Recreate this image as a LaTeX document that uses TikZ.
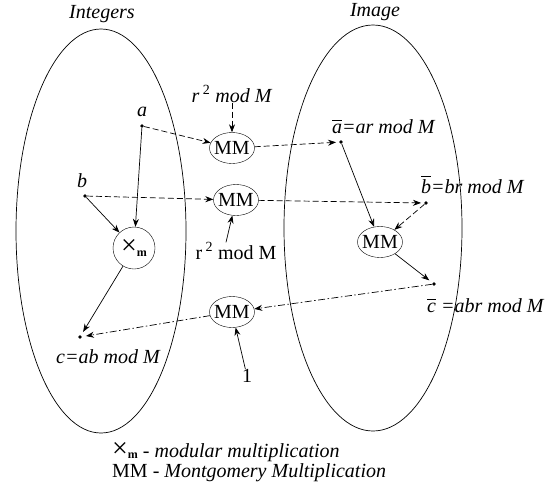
\documentclass[tikz,border=0pt]{standalone}
\usepackage{amsmath}
\usepackage{graphicx}
\usepackage{fontspec}
\setmainfont{Liberation Serif}
\usetikzlibrary{shapes.geometric, arrows.meta, positioning}
\tikzstyle{mm} = [ellipse, draw, minimum width=45pt, minimum height=31pt, inner xsep=-6pt, inner ysep=0pt]
\tikzstyle{modmul} = [circle, draw, minimum size=42pt, inner sep=0pt]
\tikzstyle{dot} = [circle, fill=black, inner sep=0pt, minimum size=3.6pt]
\tikzstyle{lbl} = [inner sep=0pt]
\tikzstyle{arrow} = [line width=0.7pt,->,>={Stealth[length=8pt,width=6pt]}]
\tikzstyle{darrow} = [arrow, dash pattern=on 6pt off 3pt]
\tikzstyle{ddarrow} = [arrow, dash pattern=on 7pt off 2.5pt on 1.5pt off 2.5pt]
\newcommand{\ovl}[1]{$\overline{\textit{#1}}$}
\newcommand{\xmod}{\scalebox{1.4}{×}\raisebox{-1.5pt}{\fontsize{12}{12}\selectfont\textbf{m}}}

\begin{document}
\begin{tikzpicture}[x=1pt, y=-1pt, font=\fontsize{20}{22}\selectfont]

    \useasboundingbox (0,0) rectangle (559,491);

    % the two sets
    \draw [line width=0.7pt] (101,231) ellipse [x radius=85pt, y radius=202pt];
    \draw [line width=0.7pt] (373,228) ellipse [x radius=89pt, y radius=203pt];
    \node (integers) [lbl] at (102,14) {\textit{Integers}};
    \node (image) [lbl] at (375,12) {\textit{Image}};

    % points
    \node (adot) [dot] at (142,126) {};
    \node (bdot) [dot] at (85,196) {};
    \node (cdot) [dot] at (80,337) {};
    \node (abar) [dot] at (341,142) {};
    \node (bbar) [dot] at (426,203) {};
    \node (cbar) [dot] at (434,284) {};
    \node (alab) [lbl] at (142,112) {\textit{a}};
    \node (blab) [lbl] at (82,181) {\textit{b}};
    \node (clab) [lbl, anchor=base west] at (56,363) {\textit{c=ab mod M}};
    \node (ablab) [lbl, anchor=base west] at (332,133) {\ovl{a}\textit{=ar mod M}};
    \node (bblab) [lbl, anchor=base west] at (421,193) {\ovl{b}\textit{=br mod M}};
    \node (cblab) [lbl, anchor=base west] at (427,312) {\ovl{c} \textit{=abr mod M}};

    % multipliers
    \node (mm1) [mm] at (232,148) {MM};
    \node (mm2) [mm] at (236,200) {MM};
    \node (mm3) [mm] at (380,242) {MM};
    \node (mm4) [mm] at (232,312) {MM};
    \node (xm) [modmul] at (134,248) {\xmod};

    % constants
    \node (r2top) [lbl] at (232,94) {\textit{r}\,\textsuperscript{2} \textit{mod M}};
    \node (r2bot) [lbl] at (236,251) {r\,\textsuperscript{2} mod M};
    \node (one) [lbl] at (247,376) {1};

    \draw [darrow] (adot) -- (mm1);
    \draw [arrow] (adot) -- (xm);
    \draw [darrow] (bdot) -- (mm2);
    \draw [arrow] (bdot) -- (xm);
    \draw [darrow] (r2top.south) -- (mm1);
    \draw [arrow] ([xshift=-10pt]r2bot.north) -- (mm2);
    \draw [darrow, shorten >=3pt] (mm1) -- (abar);
    \draw [darrow, shorten >=3pt] (mm2) -- (bbar);
    \draw [arrow] (abar) -- (mm3);
    \draw [darrow] (bbar) -- (mm3);
    \draw [arrow, shorten >=4pt] (mm3) -- (cbar);
    \draw [ddarrow] (cbar) -- (mm4);
    \draw [ddarrow, shorten >=4pt] (mm4) -- (cdot);
    \draw [arrow, shorten >=4pt] (xm) -- (cdot);
    \draw [arrow] (one) -- (mm4);

    % legend
    \node (legend) [lbl, anchor=base west, align=left, font=\fontsize{20}{20}\selectfont] at (112,477)
        {\xmod{} - \textit{modular multiplication}\\MM - \textit{Montgomery Multiplication}};

    \end{tikzpicture}
\end{document}
